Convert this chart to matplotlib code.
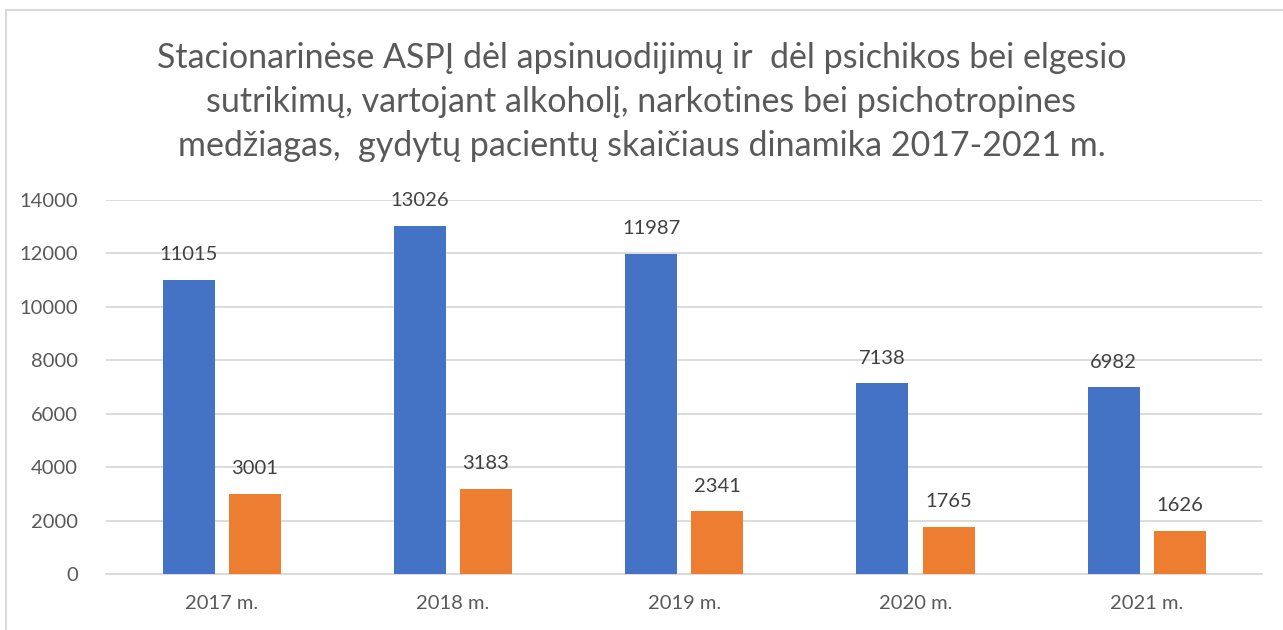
import matplotlib.pyplot as plt
from matplotlib.patches import Rectangle
import numpy as np

plt.rcParams['font.family'] = ['Lato', 'DejaVu Sans']

# Data
years = ['2017 m.', '2018 m.', '2019 m.', '2020 m.', '2021 m.']
series_a = [11015, 13026, 11987, 7138, 6982]
series_b = [3001, 3183, 2341, 1765, 1626]

title = ('Stacionarinėse ASPĮ dėl apsinuodijimų ir  dėl psichikos bei elgesio\n'
         'sutrikimų, vartojant alkoholį, narkotines bei psichotropines\n'
         'medžiagas,  gydytų pacientų skaičiaus dinamika 2017-2021 m.')

text_col = '#595959'
grid_col = '#D9D9D9'

fig = plt.figure(figsize=(12.83, 6.3), dpi=100)
ax = fig.add_axes([0.0826, 0.0889, 0.9014, 0.5936])

x = np.arange(len(years))
w = 0.225
off = 0.143
bars_a = ax.bar(x - off, series_a, w, color='#4472C4', zorder=3)
bars_b = ax.bar(x + off, series_b, w, color='#ED7D31', zorder=3)

for bars in (bars_a, bars_b):
    for b in bars:
        ax.annotate(str(int(b.get_height())),
                    (b.get_x() + b.get_width() / 2, b.get_height()),
                    xytext=(0, 12), textcoords='offset points',
                    ha='center', va='bottom', fontsize=14.5, color='#404040')

ax.set_xlim(-0.5, len(years) - 0.5)
ax.set_ylim(0, 14000)
ax.set_yticks(range(0, 14001, 2000))
ax.set_xticks(x)
ax.set_xticklabels(years)
ax.yaxis.grid(True, color=grid_col, linewidth=1.3, zorder=0)
for s in ['top', 'right', 'left']:
    ax.spines[s].set_visible(False)
ax.spines['bottom'].set_color(grid_col)
ax.spines['bottom'].set_linewidth(1.3)
ax.tick_params(axis='both', length=0, labelsize=14.5, colors=text_col)
ax.tick_params(axis='y', pad=20)
ax.tick_params(axis='x', pad=15)

fig.text(0.5, 0.838, title, ha='center', va='center', fontsize=24.5,
         color=text_col, linespacing=1.45)

# chart frame (partly cropped in the original)
fig.patches.append(Rectangle((6 / 1283, -0.1), 1.2, 1 - 10 / 630 + 0.1,
                             transform=fig.transFigure, fill=False,
                             edgecolor=grid_col, linewidth=1.5))

fig.savefig('out.png', dpi=100)
